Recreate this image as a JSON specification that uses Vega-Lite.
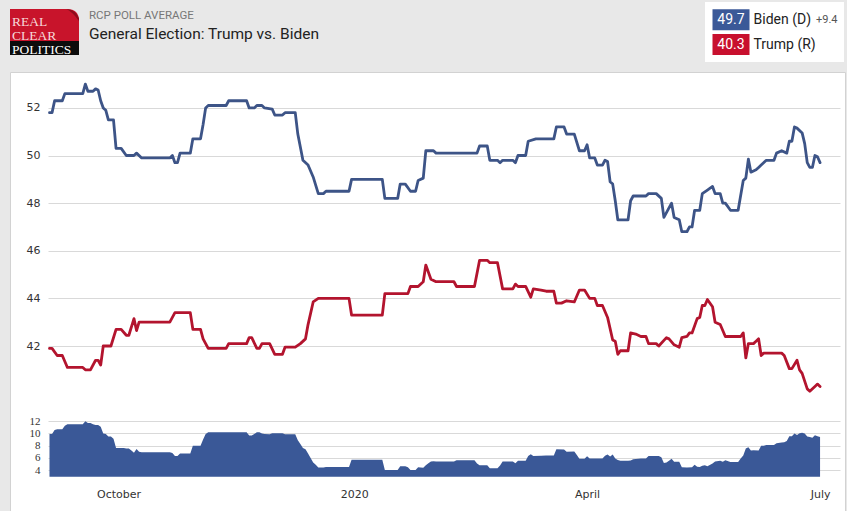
{
  "$schema": "https://vega.github.io/schema/vega-lite/v6.json",
  "width": 835,
  "height": 439,
  "autosize": "none",
  "padding": {"left": 10, "top": 72, "right": 2, "bottom": 0},
  "background": "#e8e8e8",
  "config": {
    "view": {"fill": "white", "stroke": "#d2d2d2", "strokeWidth": 1},
    "axis": {"labelFont": "DejaVu Sans", "labelFontSize": 11, "labelColor": "#333333", "title": null, "ticks": false, "domain": false}
  },
  "title": {
    "text": "RCP POLL AVERAGE",
    "subtitle": "General Election: Trump vs. Biden",
    "anchor": "start",
    "frame": "group",
    "dx": 79,
    "offset": -40,
    "font": "Roboto",
    "fontSize": 11.5,
    "fontWeight": "normal",
    "color": "#777777",
    "subtitleFont": "Roboto",
    "subtitleFontSize": 15.5,
    "subtitleColor": "#222222",
    "subtitlePadding": 5
  },
  "datasets": {
    "polls": [
      {"d": "2019-09-04", "c": "Biden", "v": 51.8},
      {"d": "2019-09-05", "c": "Biden", "v": 51.8},
      {"d": "2019-09-06", "c": "Biden", "v": 52.3},
      {"d": "2019-09-09", "c": "Biden", "v": 52.3},
      {"d": "2019-09-10", "c": "Biden", "v": 52.6},
      {"d": "2019-09-17", "c": "Biden", "v": 52.6},
      {"d": "2019-09-18", "c": "Biden", "v": 53.0},
      {"d": "2019-09-19", "c": "Biden", "v": 52.7},
      {"d": "2019-09-21", "c": "Biden", "v": 52.7},
      {"d": "2019-09-22", "c": "Biden", "v": 52.8},
      {"d": "2019-09-23", "c": "Biden", "v": 52.75},
      {"d": "2019-09-24", "c": "Biden", "v": 52.3},
      {"d": "2019-09-25", "c": "Biden", "v": 52.0},
      {"d": "2019-09-26", "c": "Biden", "v": 51.9},
      {"d": "2019-09-27", "c": "Biden", "v": 51.5},
      {"d": "2019-09-29", "c": "Biden", "v": 51.5},
      {"d": "2019-09-30", "c": "Biden", "v": 50.3},
      {"d": "2019-10-02", "c": "Biden", "v": 50.3},
      {"d": "2019-10-04", "c": "Biden", "v": 50.0},
      {"d": "2019-10-07", "c": "Biden", "v": 50.0},
      {"d": "2019-10-08", "c": "Biden", "v": 50.1},
      {"d": "2019-10-10", "c": "Biden", "v": 49.9},
      {"d": "2019-10-21", "c": "Biden", "v": 49.9},
      {"d": "2019-10-22", "c": "Biden", "v": 50.0},
      {"d": "2019-10-23", "c": "Biden", "v": 49.7},
      {"d": "2019-10-24", "c": "Biden", "v": 49.7},
      {"d": "2019-10-25", "c": "Biden", "v": 50.1},
      {"d": "2019-10-29", "c": "Biden", "v": 50.1},
      {"d": "2019-10-30", "c": "Biden", "v": 50.7},
      {"d": "2019-11-02", "c": "Biden", "v": 50.7},
      {"d": "2019-11-03", "c": "Biden", "v": 51.3},
      {"d": "2019-11-04", "c": "Biden", "v": 52.0},
      {"d": "2019-11-05", "c": "Biden", "v": 52.1},
      {"d": "2019-11-12", "c": "Biden", "v": 52.1},
      {"d": "2019-11-13", "c": "Biden", "v": 52.3},
      {"d": "2019-11-20", "c": "Biden", "v": 52.3},
      {"d": "2019-11-21", "c": "Biden", "v": 52.0},
      {"d": "2019-11-23", "c": "Biden", "v": 52.0},
      {"d": "2019-11-24", "c": "Biden", "v": 52.1},
      {"d": "2019-11-26", "c": "Biden", "v": 52.1},
      {"d": "2019-11-27", "c": "Biden", "v": 52.0},
      {"d": "2019-11-30", "c": "Biden", "v": 51.95},
      {"d": "2019-12-01", "c": "Biden", "v": 51.7},
      {"d": "2019-12-04", "c": "Biden", "v": 51.7},
      {"d": "2019-12-05", "c": "Biden", "v": 51.8},
      {"d": "2019-12-09", "c": "Biden", "v": 51.8},
      {"d": "2019-12-10", "c": "Biden", "v": 50.9},
      {"d": "2019-12-12", "c": "Biden", "v": 49.8},
      {"d": "2019-12-14", "c": "Biden", "v": 49.6},
      {"d": "2019-12-16", "c": "Biden", "v": 49.1},
      {"d": "2019-12-18", "c": "Biden", "v": 48.4},
      {"d": "2019-12-20", "c": "Biden", "v": 48.4},
      {"d": "2019-12-21", "c": "Biden", "v": 48.5},
      {"d": "2019-12-30", "c": "Biden", "v": 48.5},
      {"d": "2019-12-31", "c": "Biden", "v": 49.0},
      {"d": "2020-01-12", "c": "Biden", "v": 49.0},
      {"d": "2020-01-13", "c": "Biden", "v": 48.2},
      {"d": "2020-01-18", "c": "Biden", "v": 48.2},
      {"d": "2020-01-19", "c": "Biden", "v": 48.8},
      {"d": "2020-01-21", "c": "Biden", "v": 48.8},
      {"d": "2020-01-23", "c": "Biden", "v": 48.5},
      {"d": "2020-01-25", "c": "Biden", "v": 48.5},
      {"d": "2020-01-26", "c": "Biden", "v": 48.95},
      {"d": "2020-01-28", "c": "Biden", "v": 49.05},
      {"d": "2020-01-29", "c": "Biden", "v": 50.2},
      {"d": "2020-02-01", "c": "Biden", "v": 50.2},
      {"d": "2020-02-02", "c": "Biden", "v": 50.1},
      {"d": "2020-02-18", "c": "Biden", "v": 50.1},
      {"d": "2020-02-19", "c": "Biden", "v": 50.4},
      {"d": "2020-02-22", "c": "Biden", "v": 50.4},
      {"d": "2020-02-23", "c": "Biden", "v": 49.8},
      {"d": "2020-02-26", "c": "Biden", "v": 49.8},
      {"d": "2020-02-27", "c": "Biden", "v": 49.7},
      {"d": "2020-02-28", "c": "Biden", "v": 49.8},
      {"d": "2020-03-03", "c": "Biden", "v": 49.8},
      {"d": "2020-03-04", "c": "Biden", "v": 49.7},
      {"d": "2020-03-05", "c": "Biden", "v": 50.0},
      {"d": "2020-03-08", "c": "Biden", "v": 50.0},
      {"d": "2020-03-09", "c": "Biden", "v": 50.6},
      {"d": "2020-03-12", "c": "Biden", "v": 50.7},
      {"d": "2020-03-19", "c": "Biden", "v": 50.7},
      {"d": "2020-03-20", "c": "Biden", "v": 51.2},
      {"d": "2020-03-23", "c": "Biden", "v": 51.2},
      {"d": "2020-03-24", "c": "Biden", "v": 50.9},
      {"d": "2020-03-27", "c": "Biden", "v": 50.9},
      {"d": "2020-03-29", "c": "Biden", "v": 50.2},
      {"d": "2020-03-31", "c": "Biden", "v": 50.2},
      {"d": "2020-04-01", "c": "Biden", "v": 50.45},
      {"d": "2020-04-02", "c": "Biden", "v": 49.9},
      {"d": "2020-04-04", "c": "Biden", "v": 49.9},
      {"d": "2020-04-05", "c": "Biden", "v": 49.6},
      {"d": "2020-04-07", "c": "Biden", "v": 49.6},
      {"d": "2020-04-08", "c": "Biden", "v": 49.8},
      {"d": "2020-04-09", "c": "Biden", "v": 49.75},
      {"d": "2020-04-10", "c": "Biden", "v": 48.9},
      {"d": "2020-04-11", "c": "Biden", "v": 48.8},
      {"d": "2020-04-12", "c": "Biden", "v": 48.1},
      {"d": "2020-04-13", "c": "Biden", "v": 47.3},
      {"d": "2020-04-17", "c": "Biden", "v": 47.3},
      {"d": "2020-04-18", "c": "Biden", "v": 48.1},
      {"d": "2020-04-19", "c": "Biden", "v": 48.3},
      {"d": "2020-04-24", "c": "Biden", "v": 48.3},
      {"d": "2020-04-25", "c": "Biden", "v": 48.4},
      {"d": "2020-04-28", "c": "Biden", "v": 48.4},
      {"d": "2020-04-30", "c": "Biden", "v": 48.2},
      {"d": "2020-05-01", "c": "Biden", "v": 47.4},
      {"d": "2020-05-02", "c": "Biden", "v": 47.6},
      {"d": "2020-05-04", "c": "Biden", "v": 48.0},
      {"d": "2020-05-05", "c": "Biden", "v": 47.4},
      {"d": "2020-05-07", "c": "Biden", "v": 47.3},
      {"d": "2020-05-08", "c": "Biden", "v": 46.8},
      {"d": "2020-05-10", "c": "Biden", "v": 46.8},
      {"d": "2020-05-11", "c": "Biden", "v": 47.0},
      {"d": "2020-05-12", "c": "Biden", "v": 47.0},
      {"d": "2020-05-13", "c": "Biden", "v": 47.7},
      {"d": "2020-05-15", "c": "Biden", "v": 47.7},
      {"d": "2020-05-16", "c": "Biden", "v": 48.4},
      {"d": "2020-05-18", "c": "Biden", "v": 48.55},
      {"d": "2020-05-20", "c": "Biden", "v": 48.7},
      {"d": "2020-05-21", "c": "Biden", "v": 48.4},
      {"d": "2020-05-23", "c": "Biden", "v": 48.4},
      {"d": "2020-05-24", "c": "Biden", "v": 48.0},
      {"d": "2020-05-25", "c": "Biden", "v": 48.0},
      {"d": "2020-05-27", "c": "Biden", "v": 47.7},
      {"d": "2020-05-30", "c": "Biden", "v": 47.7},
      {"d": "2020-06-01", "c": "Biden", "v": 48.95},
      {"d": "2020-06-02", "c": "Biden", "v": 49.05},
      {"d": "2020-06-03", "c": "Biden", "v": 49.85},
      {"d": "2020-06-04", "c": "Biden", "v": 49.3},
      {"d": "2020-06-06", "c": "Biden", "v": 49.4},
      {"d": "2020-06-07", "c": "Biden", "v": 49.5},
      {"d": "2020-06-08", "c": "Biden", "v": 49.6},
      {"d": "2020-06-10", "c": "Biden", "v": 49.8},
      {"d": "2020-06-13", "c": "Biden", "v": 49.8},
      {"d": "2020-06-14", "c": "Biden", "v": 50.1},
      {"d": "2020-06-16", "c": "Biden", "v": 50.2},
      {"d": "2020-06-18", "c": "Biden", "v": 50.1},
      {"d": "2020-06-19", "c": "Biden", "v": 50.6},
      {"d": "2020-06-20", "c": "Biden", "v": 50.6},
      {"d": "2020-06-21", "c": "Biden", "v": 51.2},
      {"d": "2020-06-22", "c": "Biden", "v": 51.15},
      {"d": "2020-06-24", "c": "Biden", "v": 50.95},
      {"d": "2020-06-25", "c": "Biden", "v": 50.5},
      {"d": "2020-06-26", "c": "Biden", "v": 49.7},
      {"d": "2020-06-27", "c": "Biden", "v": 49.5},
      {"d": "2020-06-28", "c": "Biden", "v": 49.5},
      {"d": "2020-06-29", "c": "Biden", "v": 50.0},
      {"d": "2020-06-30", "c": "Biden", "v": 49.95},
      {"d": "2020-07-01", "c": "Biden", "v": 49.7},
      {"d": "2019-09-04", "c": "Trump", "v": 41.9},
      {"d": "2019-09-05", "c": "Trump", "v": 41.9},
      {"d": "2019-09-07", "c": "Trump", "v": 41.6},
      {"d": "2019-09-09", "c": "Trump", "v": 41.6},
      {"d": "2019-09-11", "c": "Trump", "v": 41.1},
      {"d": "2019-09-17", "c": "Trump", "v": 41.1},
      {"d": "2019-09-18", "c": "Trump", "v": 41.0},
      {"d": "2019-09-20", "c": "Trump", "v": 41.0},
      {"d": "2019-09-22", "c": "Trump", "v": 41.4},
      {"d": "2019-09-23", "c": "Trump", "v": 41.4},
      {"d": "2019-09-24", "c": "Trump", "v": 41.2},
      {"d": "2019-09-25", "c": "Trump", "v": 42.0},
      {"d": "2019-09-28", "c": "Trump", "v": 42.0},
      {"d": "2019-09-30", "c": "Trump", "v": 42.7},
      {"d": "2019-10-02", "c": "Trump", "v": 42.7},
      {"d": "2019-10-04", "c": "Trump", "v": 42.45},
      {"d": "2019-10-05", "c": "Trump", "v": 42.45},
      {"d": "2019-10-07", "c": "Trump", "v": 43.15},
      {"d": "2019-10-08", "c": "Trump", "v": 42.65},
      {"d": "2019-10-09", "c": "Trump", "v": 43.0},
      {"d": "2019-10-21", "c": "Trump", "v": 43.0},
      {"d": "2019-10-23", "c": "Trump", "v": 43.4},
      {"d": "2019-10-29", "c": "Trump", "v": 43.4},
      {"d": "2019-10-30", "c": "Trump", "v": 42.7},
      {"d": "2019-11-02", "c": "Trump", "v": 42.7},
      {"d": "2019-11-03", "c": "Trump", "v": 42.3},
      {"d": "2019-11-05", "c": "Trump", "v": 41.9},
      {"d": "2019-11-12", "c": "Trump", "v": 41.9},
      {"d": "2019-11-13", "c": "Trump", "v": 42.1},
      {"d": "2019-11-20", "c": "Trump", "v": 42.1},
      {"d": "2019-11-21", "c": "Trump", "v": 42.35},
      {"d": "2019-11-22", "c": "Trump", "v": 42.35},
      {"d": "2019-11-24", "c": "Trump", "v": 41.9},
      {"d": "2019-11-25", "c": "Trump", "v": 41.9},
      {"d": "2019-11-26", "c": "Trump", "v": 42.1},
      {"d": "2019-11-29", "c": "Trump", "v": 42.1},
      {"d": "2019-12-01", "c": "Trump", "v": 41.65},
      {"d": "2019-12-04", "c": "Trump", "v": 41.65},
      {"d": "2019-12-05", "c": "Trump", "v": 41.95},
      {"d": "2019-12-09", "c": "Trump", "v": 41.95},
      {"d": "2019-12-11", "c": "Trump", "v": 42.1},
      {"d": "2019-12-13", "c": "Trump", "v": 42.3},
      {"d": "2019-12-14", "c": "Trump", "v": 42.9},
      {"d": "2019-12-16", "c": "Trump", "v": 43.85},
      {"d": "2019-12-18", "c": "Trump", "v": 44.0},
      {"d": "2019-12-30", "c": "Trump", "v": 44.0},
      {"d": "2019-12-31", "c": "Trump", "v": 43.3},
      {"d": "2020-01-12", "c": "Trump", "v": 43.3},
      {"d": "2020-01-13", "c": "Trump", "v": 44.2},
      {"d": "2020-01-22", "c": "Trump", "v": 44.2},
      {"d": "2020-01-23", "c": "Trump", "v": 44.5},
      {"d": "2020-01-26", "c": "Trump", "v": 44.5},
      {"d": "2020-01-28", "c": "Trump", "v": 44.7},
      {"d": "2020-01-29", "c": "Trump", "v": 45.4},
      {"d": "2020-01-31", "c": "Trump", "v": 44.8},
      {"d": "2020-02-02", "c": "Trump", "v": 44.7},
      {"d": "2020-02-09", "c": "Trump", "v": 44.7},
      {"d": "2020-02-10", "c": "Trump", "v": 44.5},
      {"d": "2020-02-17", "c": "Trump", "v": 44.5},
      {"d": "2020-02-19", "c": "Trump", "v": 45.6},
      {"d": "2020-02-22", "c": "Trump", "v": 45.6},
      {"d": "2020-02-23", "c": "Trump", "v": 45.5},
      {"d": "2020-02-26", "c": "Trump", "v": 45.5},
      {"d": "2020-02-28", "c": "Trump", "v": 44.4},
      {"d": "2020-03-03", "c": "Trump", "v": 44.4},
      {"d": "2020-03-04", "c": "Trump", "v": 44.6},
      {"d": "2020-03-05", "c": "Trump", "v": 44.5},
      {"d": "2020-03-08", "c": "Trump", "v": 44.5},
      {"d": "2020-03-10", "c": "Trump", "v": 44.05},
      {"d": "2020-03-11", "c": "Trump", "v": 44.4},
      {"d": "2020-03-14", "c": "Trump", "v": 44.35},
      {"d": "2020-03-16", "c": "Trump", "v": 44.3},
      {"d": "2020-03-19", "c": "Trump", "v": 44.3},
      {"d": "2020-03-20", "c": "Trump", "v": 43.8},
      {"d": "2020-03-22", "c": "Trump", "v": 43.8},
      {"d": "2020-03-24", "c": "Trump", "v": 43.9},
      {"d": "2020-03-27", "c": "Trump", "v": 43.85},
      {"d": "2020-03-29", "c": "Trump", "v": 44.35},
      {"d": "2020-03-31", "c": "Trump", "v": 44.35},
      {"d": "2020-04-02", "c": "Trump", "v": 44.0},
      {"d": "2020-04-04", "c": "Trump", "v": 44.0},
      {"d": "2020-04-05", "c": "Trump", "v": 43.7},
      {"d": "2020-04-07", "c": "Trump", "v": 43.7},
      {"d": "2020-04-09", "c": "Trump", "v": 43.2},
      {"d": "2020-04-11", "c": "Trump", "v": 42.25},
      {"d": "2020-04-12", "c": "Trump", "v": 42.2},
      {"d": "2020-04-13", "c": "Trump", "v": 41.65},
      {"d": "2020-04-14", "c": "Trump", "v": 41.8},
      {"d": "2020-04-17", "c": "Trump", "v": 41.8},
      {"d": "2020-04-18", "c": "Trump", "v": 42.55},
      {"d": "2020-04-20", "c": "Trump", "v": 42.5},
      {"d": "2020-04-22", "c": "Trump", "v": 42.4},
      {"d": "2020-04-24", "c": "Trump", "v": 42.4},
      {"d": "2020-04-25", "c": "Trump", "v": 42.1},
      {"d": "2020-04-28", "c": "Trump", "v": 42.1},
      {"d": "2020-04-29", "c": "Trump", "v": 42.0},
      {"d": "2020-05-02", "c": "Trump", "v": 42.35},
      {"d": "2020-05-03", "c": "Trump", "v": 42.3},
      {"d": "2020-05-05", "c": "Trump", "v": 42.05},
      {"d": "2020-05-07", "c": "Trump", "v": 41.95},
      {"d": "2020-05-08", "c": "Trump", "v": 42.35},
      {"d": "2020-05-10", "c": "Trump", "v": 42.4},
      {"d": "2020-05-11", "c": "Trump", "v": 42.55},
      {"d": "2020-05-12", "c": "Trump", "v": 42.55},
      {"d": "2020-05-14", "c": "Trump", "v": 43.15},
      {"d": "2020-05-15", "c": "Trump", "v": 43.2},
      {"d": "2020-05-16", "c": "Trump", "v": 43.7},
      {"d": "2020-05-17", "c": "Trump", "v": 43.7},
      {"d": "2020-05-18", "c": "Trump", "v": 43.95},
      {"d": "2020-05-20", "c": "Trump", "v": 43.65},
      {"d": "2020-05-21", "c": "Trump", "v": 43.0},
      {"d": "2020-05-23", "c": "Trump", "v": 42.9},
      {"d": "2020-05-25", "c": "Trump", "v": 42.4},
      {"d": "2020-05-31", "c": "Trump", "v": 42.4},
      {"d": "2020-06-01", "c": "Trump", "v": 42.55},
      {"d": "2020-06-02", "c": "Trump", "v": 41.5},
      {"d": "2020-06-03", "c": "Trump", "v": 42.1},
      {"d": "2020-06-05", "c": "Trump", "v": 42.1},
      {"d": "2020-06-06", "c": "Trump", "v": 42.2},
      {"d": "2020-06-07", "c": "Trump", "v": 42.3},
      {"d": "2020-06-08", "c": "Trump", "v": 41.6},
      {"d": "2020-06-09", "c": "Trump", "v": 41.7},
      {"d": "2020-06-16", "c": "Trump", "v": 41.7},
      {"d": "2020-06-17", "c": "Trump", "v": 41.6},
      {"d": "2020-06-19", "c": "Trump", "v": 41.05},
      {"d": "2020-06-20", "c": "Trump", "v": 41.05},
      {"d": "2020-06-22", "c": "Trump", "v": 41.4},
      {"d": "2020-06-23", "c": "Trump", "v": 41.0},
      {"d": "2020-06-24", "c": "Trump", "v": 40.85},
      {"d": "2020-06-26", "c": "Trump", "v": 40.2},
      {"d": "2020-06-27", "c": "Trump", "v": 40.1},
      {"d": "2020-06-29", "c": "Trump", "v": 40.3},
      {"d": "2020-06-30", "c": "Trump", "v": 40.4},
      {"d": "2020-07-01", "c": "Trump", "v": 40.3}
    ],
    "spread": [
      {"d": "2019-09-04", "s": 9.9},
      {"d": "2019-09-05", "s": 9.9},
      {"d": "2019-09-06", "s": 10.55},
      {"d": "2019-09-07", "s": 10.7},
      {"d": "2019-09-09", "s": 10.7},
      {"d": "2019-09-10", "s": 11.25},
      {"d": "2019-09-11", "s": 11.5},
      {"d": "2019-09-17", "s": 11.5},
      {"d": "2019-09-18", "s": 12.0},
      {"d": "2019-09-19", "s": 11.7},
      {"d": "2019-09-20", "s": 11.7},
      {"d": "2019-09-21", "s": 11.5},
      {"d": "2019-09-22", "s": 11.4},
      {"d": "2019-09-23", "s": 11.4},
      {"d": "2019-09-24", "s": 11.1},
      {"d": "2019-09-25", "s": 10.0},
      {"d": "2019-09-26", "s": 9.9},
      {"d": "2019-09-27", "s": 9.5},
      {"d": "2019-09-28", "s": 9.5},
      {"d": "2019-09-29", "s": 9.15},
      {"d": "2019-09-30", "s": 7.6},
      {"d": "2019-10-02", "s": 7.6},
      {"d": "2019-10-03", "s": 7.6},
      {"d": "2019-10-04", "s": 7.55},
      {"d": "2019-10-05", "s": 7.55},
      {"d": "2019-10-06", "s": 7.2},
      {"d": "2019-10-07", "s": 6.85},
      {"d": "2019-10-08", "s": 7.45},
      {"d": "2019-10-09", "s": 7.0},
      {"d": "2019-10-10", "s": 6.9},
      {"d": "2019-10-21", "s": 6.9},
      {"d": "2019-10-22", "s": 6.8},
      {"d": "2019-10-23", "s": 6.3},
      {"d": "2019-10-24", "s": 6.3},
      {"d": "2019-10-25", "s": 6.7},
      {"d": "2019-10-29", "s": 6.7},
      {"d": "2019-10-30", "s": 8.0},
      {"d": "2019-11-02", "s": 8.0},
      {"d": "2019-11-03", "s": 9.0},
      {"d": "2019-11-04", "s": 9.9},
      {"d": "2019-11-05", "s": 10.2},
      {"d": "2019-11-20", "s": 10.2},
      {"d": "2019-11-21", "s": 9.65},
      {"d": "2019-11-22", "s": 9.65},
      {"d": "2019-11-23", "s": 9.9},
      {"d": "2019-11-24", "s": 10.2},
      {"d": "2019-11-25", "s": 10.2},
      {"d": "2019-11-26", "s": 10.0},
      {"d": "2019-11-27", "s": 9.9},
      {"d": "2019-11-29", "s": 9.85},
      {"d": "2019-11-30", "s": 10.05},
      {"d": "2019-12-04", "s": 10.05},
      {"d": "2019-12-05", "s": 9.85},
      {"d": "2019-12-09", "s": 9.85},
      {"d": "2019-12-10", "s": 8.9},
      {"d": "2019-12-11", "s": 8.25},
      {"d": "2019-12-12", "s": 7.6},
      {"d": "2019-12-13", "s": 7.4},
      {"d": "2019-12-14", "s": 6.7},
      {"d": "2019-12-15", "s": 5.95},
      {"d": "2019-12-16", "s": 5.25},
      {"d": "2019-12-17", "s": 4.85},
      {"d": "2019-12-18", "s": 4.4},
      {"d": "2019-12-20", "s": 4.4},
      {"d": "2019-12-21", "s": 4.5},
      {"d": "2019-12-30", "s": 4.5},
      {"d": "2019-12-31", "s": 5.7},
      {"d": "2020-01-12", "s": 5.7},
      {"d": "2020-01-13", "s": 4.0},
      {"d": "2020-01-18", "s": 4.0},
      {"d": "2020-01-19", "s": 4.6},
      {"d": "2020-01-21", "s": 4.6},
      {"d": "2020-01-22", "s": 4.45},
      {"d": "2020-01-23", "s": 4.0},
      {"d": "2020-01-25", "s": 4.0},
      {"d": "2020-01-26", "s": 4.45},
      {"d": "2020-01-28", "s": 4.35},
      {"d": "2020-01-29", "s": 4.8},
      {"d": "2020-01-30", "s": 5.1},
      {"d": "2020-01-31", "s": 5.4},
      {"d": "2020-02-01", "s": 5.45},
      {"d": "2020-02-02", "s": 5.4},
      {"d": "2020-02-09", "s": 5.4},
      {"d": "2020-02-10", "s": 5.6},
      {"d": "2020-02-17", "s": 5.6},
      {"d": "2020-02-18", "s": 5.05},
      {"d": "2020-02-19", "s": 4.8},
      {"d": "2020-02-22", "s": 4.8},
      {"d": "2020-02-23", "s": 4.3},
      {"d": "2020-02-26", "s": 4.3},
      {"d": "2020-02-27", "s": 4.75},
      {"d": "2020-02-28", "s": 5.4},
      {"d": "2020-03-03", "s": 5.4},
      {"d": "2020-03-04", "s": 5.1},
      {"d": "2020-03-05", "s": 5.5},
      {"d": "2020-03-08", "s": 5.5},
      {"d": "2020-03-09", "s": 6.3},
      {"d": "2020-03-10", "s": 6.6},
      {"d": "2020-03-11", "s": 6.3},
      {"d": "2020-03-14", "s": 6.35},
      {"d": "2020-03-16", "s": 6.4},
      {"d": "2020-03-19", "s": 6.4},
      {"d": "2020-03-20", "s": 7.4},
      {"d": "2020-03-23", "s": 7.35},
      {"d": "2020-03-24", "s": 7.0},
      {"d": "2020-03-27", "s": 7.05},
      {"d": "2020-03-28", "s": 6.45},
      {"d": "2020-03-29", "s": 5.85},
      {"d": "2020-03-31", "s": 5.85},
      {"d": "2020-04-01", "s": 6.25},
      {"d": "2020-04-02", "s": 5.9},
      {"d": "2020-04-07", "s": 5.9},
      {"d": "2020-04-08", "s": 6.35},
      {"d": "2020-04-09", "s": 6.55},
      {"d": "2020-04-10", "s": 6.2},
      {"d": "2020-04-11", "s": 6.55},
      {"d": "2020-04-12", "s": 5.9},
      {"d": "2020-04-13", "s": 5.65},
      {"d": "2020-04-14", "s": 5.5},
      {"d": "2020-04-17", "s": 5.5},
      {"d": "2020-04-18", "s": 5.55},
      {"d": "2020-04-19", "s": 5.77},
      {"d": "2020-04-20", "s": 5.8},
      {"d": "2020-04-22", "s": 5.9},
      {"d": "2020-04-24", "s": 5.9},
      {"d": "2020-04-25", "s": 6.3},
      {"d": "2020-04-29", "s": 6.3},
      {"d": "2020-04-30", "s": 6.1},
      {"d": "2020-05-01", "s": 5.15},
      {"d": "2020-05-02", "s": 5.25},
      {"d": "2020-05-03", "s": 5.5},
      {"d": "2020-05-04", "s": 5.83},
      {"d": "2020-05-05", "s": 5.35},
      {"d": "2020-05-07", "s": 5.35},
      {"d": "2020-05-08", "s": 4.45},
      {"d": "2020-05-10", "s": 4.4},
      {"d": "2020-05-12", "s": 4.45},
      {"d": "2020-05-13", "s": 4.85},
      {"d": "2020-05-14", "s": 4.55},
      {"d": "2020-05-15", "s": 4.5},
      {"d": "2020-05-16", "s": 4.7},
      {"d": "2020-05-17", "s": 4.77},
      {"d": "2020-05-18", "s": 4.6},
      {"d": "2020-05-20", "s": 5.05},
      {"d": "2020-05-21", "s": 5.4},
      {"d": "2020-05-23", "s": 5.5},
      {"d": "2020-05-24", "s": 5.35},
      {"d": "2020-05-25", "s": 5.6},
      {"d": "2020-05-27", "s": 5.3},
      {"d": "2020-05-30", "s": 5.3},
      {"d": "2020-05-31", "s": 5.9},
      {"d": "2020-06-01", "s": 6.4},
      {"d": "2020-06-02", "s": 7.55},
      {"d": "2020-06-03", "s": 7.75},
      {"d": "2020-06-04", "s": 7.2},
      {"d": "2020-06-05", "s": 7.25},
      {"d": "2020-06-07", "s": 7.2},
      {"d": "2020-06-08", "s": 8.0},
      {"d": "2020-06-09", "s": 8.0},
      {"d": "2020-06-10", "s": 8.1},
      {"d": "2020-06-13", "s": 8.1},
      {"d": "2020-06-14", "s": 8.4},
      {"d": "2020-06-16", "s": 8.5},
      {"d": "2020-06-17", "s": 8.55},
      {"d": "2020-06-18", "s": 8.75},
      {"d": "2020-06-19", "s": 9.55},
      {"d": "2020-06-20", "s": 9.55},
      {"d": "2020-06-21", "s": 10.0},
      {"d": "2020-06-22", "s": 9.75},
      {"d": "2020-06-23", "s": 10.05},
      {"d": "2020-06-24", "s": 10.1},
      {"d": "2020-06-25", "s": 10.0},
      {"d": "2020-06-26", "s": 9.5},
      {"d": "2020-06-27", "s": 9.4},
      {"d": "2020-06-28", "s": 9.3},
      {"d": "2020-06-29", "s": 9.7},
      {"d": "2020-06-30", "s": 9.55},
      {"d": "2020-07-01", "s": 9.4}
    ],
    "logo": [
      {"word": "REAL"},
      {"word": "CLEAR"},
      {"word": "POLITICS"}
    ],
    "board": [
      {"name": "Biden (D)", "value": 49.7, "lead": "+9.4"},
      {"name": "Trump (R)", "value": 40.3, "lead": ""}
    ]
  },
  "layer": [
    {
      "encoding": {
        "x": {
          "field": "d",
          "type": "temporal",
          "scale": {
            "type": "utc",
            "domain": [
              {"year": 2019, "month": 9, "date": 3, "hours": 10, "utc": true},
              {"year": 2020, "month": 7, "date": 8, "hours": 19, "utc": true}
            ],
            "range": [38, 830]
          },
          "axis": {
            "orient": "bottom",
            "offset": -29,
            "labelPadding": 6,
            "grid": false,
            "labelOverlap": false,
            "values": [
              {"year": 2019, "month": 10, "date": 1, "utc": true},
              {"year": 2020, "month": 1, "date": 1, "utc": true},
              {"year": 2020, "month": 4, "date": 1, "utc": true},
              {"year": 2020, "month": 7, "date": 1, "utc": true}
            ],
            "labelExpr": "utcFormat(datum.value, '%m') === '01' ? utcFormat(datum.value, '%Y') : utcFormat(datum.value, '%B')"
          }
        }
      },
      "layer": [
        {
          "encoding": {
            "y": {
              "field": "v",
              "type": "quantitative",
              "scale": {"domain": [39.48, 53.34], "range": [334, 4], "zero": false, "nice": false},
              "axis": {
                "values": [42, 44, 46, 48, 50, 52],
                "offset": -38,
                "labelPadding": 8,
                "grid": true,
                "gridColor": "#d9d9d9",
                "gridWidth": 1
              }
            }
          },
          "layer": [
            {
              "data": {"name": "polls"},
              "mark": {"type": "line", "strokeWidth": 2.8, "strokeJoin": "round", "strokeCap": "round"},
              "encoding": {
                "color": {
                  "field": "c",
                  "type": "nominal",
                  "scale": {"domain": ["Biden", "Trump"], "range": ["#3d5487", "#b3142e"]},
                  "legend": null
                }
              }
            },
            {
              "data": {"values": [{}]},
              "mark": {"type": "rule", "color": "#b1b1b1", "strokeWidth": 3},
              "encoding": {
                "y": {"datum": 39.48},
                "x": {"datum": {"year": 2019, "month": 9, "date": 3, "hours": 10, "utc": true}},
                "x2": {"datum": {"year": 2020, "month": 7, "date": 8, "hours": 19, "utc": true}}
              }
            }
          ]
        },
        {
          "data": {"name": "spread"},
          "mark": {"type": "area", "color": "#3a5897", "opacity": 1},
          "encoding": {
            "y": {
              "field": "s",
              "type": "quantitative",
              "scale": {"domain": [2.9, 12.8], "range": [404.7, 344.4], "zero": false, "nice": false},
              "axis": {
                "orient": "left",
                "values": [4, 6, 8, 10, 12],
                "offset": -38,
                "labelPadding": 8,
                "labelOverlap": false,
                "labelFont": "Liberation Serif",
                "labelFontSize": 11,
                "grid": true,
                "gridColor": "#d9d9d9",
                "gridWidth": 1
              }
            },
            "y2": {"datum": 2.9}
          }
        }
      ],
      "resolve": {"scale": {"y": "independent"}, "axis": {"y": "independent"}}
    },
    {
      "data": {"name": "logo"},
      "encoding": {
        "x": {"datum": "logo", "type": "nominal", "scale": {"type": "point", "range": [0, 69], "padding": 0.5}, "axis": null},
        "y": {
          "field": "word",
          "type": "nominal",
          "sort": null,
          "scale": {"type": "point", "domain": ["REAL", "CLEAR", "POLITICS"], "range": [-51, -23.5], "padding": 0},
          "axis": null
        }
      },
      "layer": [
        {
          "mark": {"type": "point", "filled": true, "size": 4, "opacity": 1, "strokeWidth": 0},
          "encoding": {
            "shape": {
              "field": "word",
              "type": "nominal",
              "scale": {
                "domain": ["REAL", "CLEAR", "POLITICS"],
                "range": [
                  "M-34.5,-12H22.5Q34.5,-12 34.5,0V34H-34.5Z",
                  "M22,-25.75Q31,-25.5 34.5,-16.5L34.5,-13.5Q29,-22 22,-25.75Z",
                  "M-34.5,-7.5H34.5V6.5H-34.5Z"
                ]
              },
              "legend": null
            },
            "fill": {
              "field": "word",
              "type": "nominal",
              "scale": {"domain": ["REAL", "CLEAR", "POLITICS"], "range": ["#c8142b", "#8e0d1c", "#0c0c0c"]},
              "legend": null
            }
          }
        },
        {
          "mark": {"type": "text", "align": "left", "baseline": "middle", "dx": -32.5, "dy": 1, "font": "Liberation Serif", "fontSize": 13.5},
          "encoding": {
            "text": {"field": "word"},
            "color": {
              "field": "word",
              "type": "nominal",
              "scale": {"domain": ["REAL", "CLEAR", "POLITICS"], "range": ["#f7dada", "#f7dada", "#ffffff"]},
              "legend": null
            }
          }
        }
      ]
    },
    {
      "data": {"name": "board"},
      "encoding": {
        "x": {"datum": "board", "type": "nominal", "scale": {"type": "point", "range": [695, 834], "padding": 0.5}, "axis": null},
        "y": {
          "field": "name",
          "type": "nominal",
          "sort": null,
          "scale": {"type": "point", "domain": ["Biden (D)", "Trump (R)"], "range": [-52.3, -27.5], "padding": 0},
          "axis": null
        }
      },
      "layer": [
        {
          "mark": {"type": "point", "filled": true, "size": 4, "opacity": 1, "strokeWidth": 0, "fill": "#d0d0d0"},
          "encoding": {
            "shape": {
              "field": "name",
              "type": "nominal",
              "scale": {
                "domain": ["Biden (D)", "Trump (R)"],
                "range": ["M-69.5,-17.7H69.5V12.4H-69.5Z", "M-69.5,-12.4H69.5V17.5H-69.5Z"]
              },
              "legend": null
            }
          }
        },
        {
          "mark": {"type": "point", "filled": true, "size": 4, "opacity": 1, "strokeWidth": 0, "fill": "#ffffff"},
          "encoding": {
            "shape": {
              "field": "name",
              "type": "nominal",
              "scale": {
                "domain": ["Biden (D)", "Trump (R)"],
                "range": ["M-68.5,-16.7H68.5V12.4H-68.5Z", "M-68.5,-12.4H68.5V16.5H-68.5Z"]
              },
              "legend": null
            }
          }
        },
        {
          "mark": {"type": "point", "filled": true, "size": 4, "opacity": 1, "strokeWidth": 0, "shape": "M-62,-10.5H-25V10.5H-62Z"},
          "encoding": {
            "fill": {
              "field": "name",
              "type": "nominal",
              "scale": {"domain": ["Biden (D)", "Trump (R)"], "range": ["#3b5998", "#c8102e"]},
              "legend": null
            }
          }
        },
        {
          "mark": {"type": "text", "align": "center", "baseline": "middle", "dx": -43.5, "dy": 0.5, "font": "Roboto", "fontSize": 14, "color": "#ffffff"},
          "encoding": {"text": {"field": "value", "type": "quantitative", "format": ".1f"}}
        },
        {
          "mark": {"type": "text", "align": "left", "baseline": "middle", "dx": -21, "dy": 0.5, "font": "Roboto", "fontSize": 14, "color": "#222222"},
          "encoding": {"text": {"field": "name"}}
        },
        {
          "mark": {"type": "text", "align": "left", "baseline": "middle", "dx": 41.5, "dy": 0.5, "font": "Roboto", "fontSize": 11, "color": "#555555"},
          "encoding": {"text": {"field": "lead"}}
        }
      ]
    }
  ],
  "resolve": {
    "scale": {"x": "independent", "y": "independent", "color": "independent", "fill": "independent", "shape": "independent"},
    "axis": {"x": "independent", "y": "independent"}
  }
}
